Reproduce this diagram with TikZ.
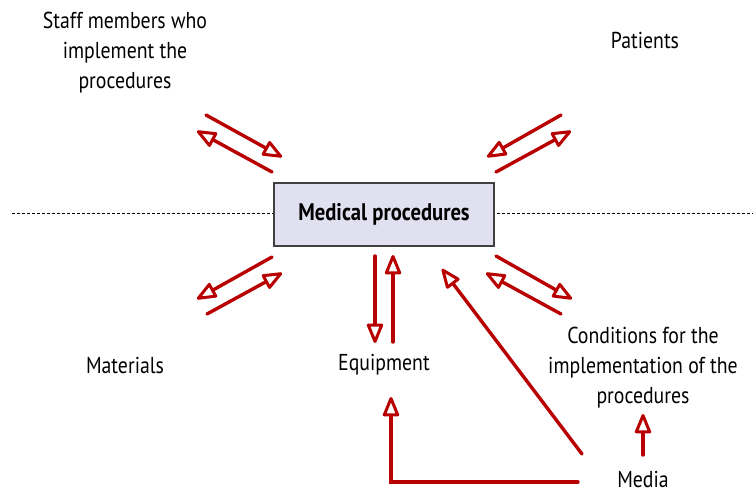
\documentclass[tikz,border=0pt]{standalone}
\usepackage{fontspec}
\setmainfont{PT Sans}[FakeStretch=0.86]
\usetikzlibrary{arrows.meta}
\definecolor{arr}{HTML}{B80000}
\definecolor{boxfill}{HTML}{E0E0F0}
\definecolor{boxline}{HTML}{404040}
\tikzset{
  lab/.style={align=center, font=\fontsize{23}{30}\selectfont, inner sep=0pt},
  rarrow/.style={draw=arr, line width=3.4pt, line cap=round,
     -{Triangle[open, length=22pt, width=17pt, line width=3pt, round]}},
}
\begin{document}
\begin{tikzpicture}[x=1pt,y=-1pt]
\useasboundingbox (0,0) rectangle (753,494);
\draw[dashed, dash pattern=on 3pt off 2pt, line width=0.8pt] (12,213) -- (753,213);
\node[draw=boxline, fill=boxfill, line width=1.2pt, minimum width=220pt, minimum height=63pt,
  font=\fontsize{24}{30}\selectfont\bfseries, inner sep=0pt] (mp) at (384,214.5) {Medical procedures};

\node[lab] (staff) at (125,53) {Staff members who\\implement the\\procedures};
\node[lab] (pat) at (645,40) {Patients};
\node[lab] (mat) at (125,365) {Materials};
\node[lab] (equ) at (384,365) {Equipment};
\node[lab] (cond) at (643,368) {Conditions for the\\implementation of the\\procedures};
\node[lab] (media) at (643,479) {Media};

% top-left
\coordinate (a1) at (206,115); \coordinate (a2) at (282,157);
\coordinate (a3) at (272,172); \coordinate (a4) at (197,131);
\draw[rarrow] (a1) -- (a2);
\draw[rarrow] (a3) -- (a4);
% top-right
\coordinate (b1) at (561,115); \coordinate (b2) at (487,157);
\coordinate (b3) at (496,172); \coordinate (b4) at (571,131);
\draw[rarrow] (b1) -- (b2);
\draw[rarrow] (b3) -- (b4);
% bottom-left
\coordinate (c1) at (272,257); \coordinate (c2) at (197,299);
\coordinate (c3) at (207,314); \coordinate (c4) at (282,273);
\draw[rarrow] (c1) -- (c2);
\draw[rarrow] (c3) -- (c4);
% bottom-right
\coordinate (d1) at (496,256); \coordinate (d2) at (572,299);
\coordinate (d3) at (561,314); \coordinate (d4) at (486,273);
\draw[rarrow] (d1) -- (d2);
\draw[rarrow] (d3) -- (d4);
% center
\coordinate (e1) at (375,256); \coordinate (e2) at (375,343);
\coordinate (e3) at (393,342); \coordinate (e4) at (393,255);
\draw[rarrow] (e1) -- (e2);
\draw[rarrow] (e3) -- (e4);
% media diagonal
\coordinate (f1) at (582,454); \coordinate (f2) at (442,269);
\draw[rarrow] (f1) -- (f2);
% media L
\coordinate (g1) at (578,482); \coordinate (g2) at (391,482); \coordinate (g3) at (391,397);
\draw[rarrow] (g1) -- (g2) -- (g3);
% media up
\coordinate (h1) at (643,455); \coordinate (h2) at (643,414);
\draw[rarrow] (h1) -- (h2);
\end{tikzpicture}
\end{document}
